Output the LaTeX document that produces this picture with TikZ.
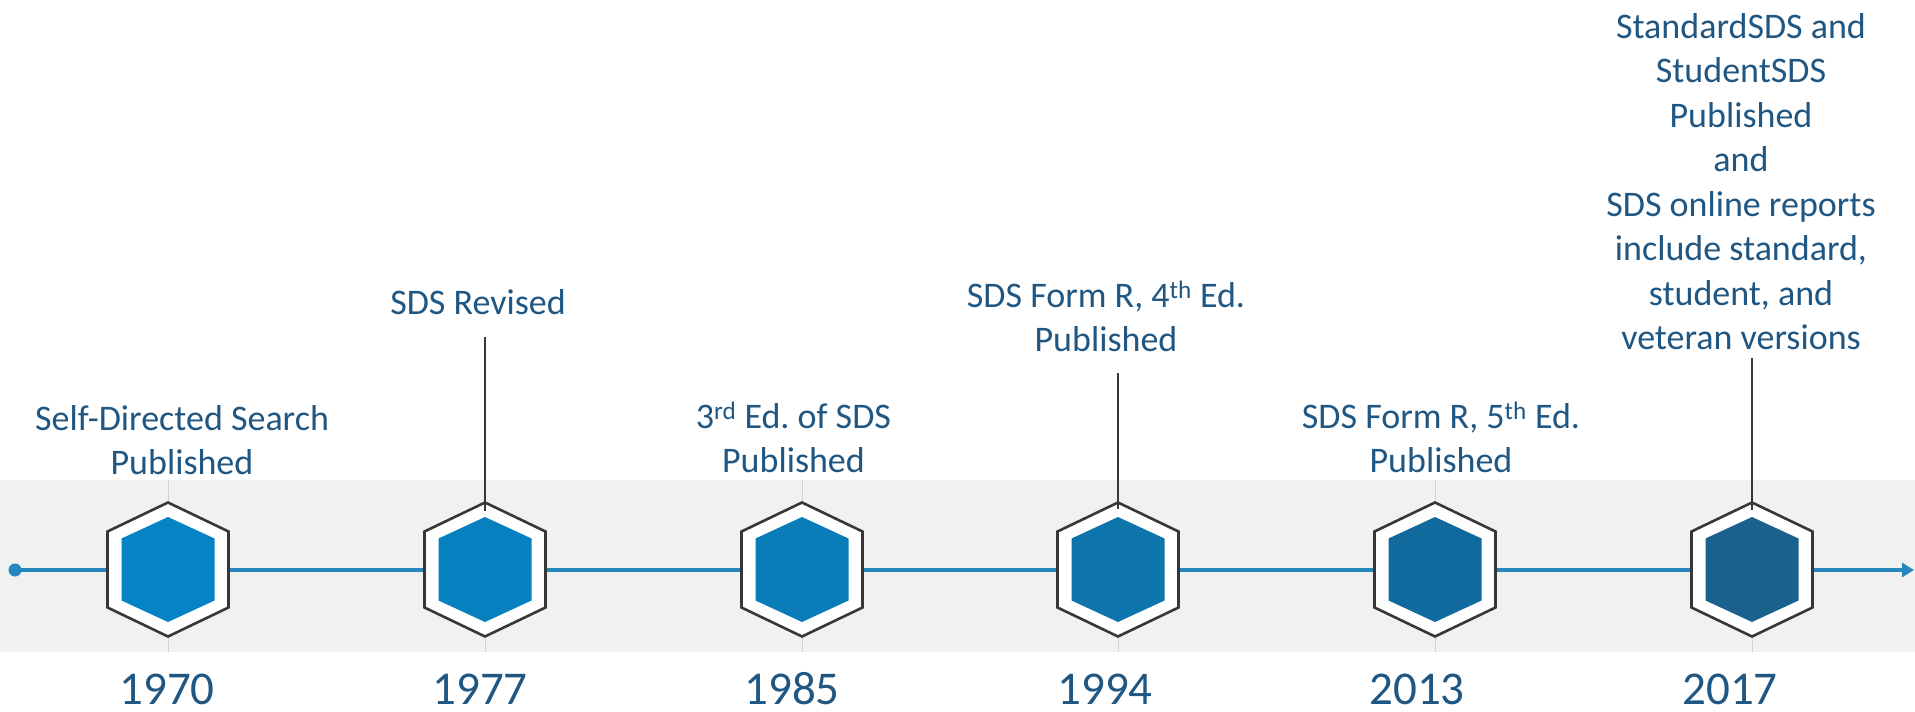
\documentclass[tikz,border=0pt]{standalone}
\usepackage{fontspec}
\setmainfont{Carlito}
\frenchspacing
\usetikzlibrary{arrows.meta,calc}
\definecolor{txtblue}{RGB}{31,86,130}
\definecolor{lineblue}{RGB}{38,134,190}
\definecolor{bandgray}{RGB}{241,241,241}
\definecolor{hexgray}{RGB}{55,55,55}
\definecolor{ca}{RGB}{4,132,196}
\definecolor{cb}{RGB}{6,128,190}
\definecolor{cc}{RGB}{9,124,185}
\definecolor{cd}{RGB}{13,116,172}
\definecolor{ce}{RGB}{17,106,158}
\definecolor{cf}{RGB}{26,97,142}
\tikzset{
  hexa/.pic={
    \filldraw[fill=white,draw=hexgray,line width=2.6pt]
      (0,-67) -- (60.5,-38) -- (60.5,38) -- (0,67) -- (-60.5,38) -- (-60.5,-38) -- cycle;
    \fill[#1] (0,-52.5) -- (46.5,-31) -- (46.5,31) -- (0,52.5) -- (-46.5,31) -- (-46.5,-31) -- cycle;
  },
  label/.style={text=txtblue,align=center,inner sep=0pt,anchor=south,
    font=\fontsize{36}{44.5}\selectfont},
  yearlbl/.style={text=txtblue,inner sep=0pt,anchor=base,
    font=\fontsize{47}{50}\selectfont},
  conn/.style={draw=hexgray,line width=1.5pt},
  faint/.style={draw=black!18,line width=1pt},
  tline/.style={draw=lineblue,line width=3.5pt}
}
\begin{document}
\begin{tikzpicture}[x=1pt,y=-1pt]
\useasboundingbox (0,0) rectangle (1915,712);
\fill[bandgray] (0,480) rectangle (1915,652);

% hex centres
\coordinate (h1970) at (168,569.5);
\coordinate (h1977) at (485,569.5);
\coordinate (h1985) at (802,569.5);
\coordinate (h1994) at (1118,569.5);
\coordinate (h2013) at (1435,569.5);
\coordinate (h2017) at (1752,569.5);

% faint vertical guides
\foreach \h in {h1970,h1977,h1985,h1994,h2013,h2017}
  \draw[faint] (\h |- 0,480) -- (\h |- 0,652);

% timeline
\coordinate (tstart) at (15,570);
\coordinate (tend) at (1914,570);
\fill[lineblue] (tstart) circle (6.5);
\draw[tline,-{Triangle[length=12pt,width=14pt]}] (tstart) -- (tend);

% hexagons
\pic at (h1970) {hexa=ca};
\pic at (h1977) {hexa=cb};
\pic at (h1985) {hexa=cc};
\pic at (h1994) {hexa=cd};
\pic at (h2013) {hexa=ce};
\pic at (h2017) {hexa=cf};

% event labels
\node[label] (t1970) at (182,475) {Self-Directed Search\\Published};
\node[label] (t1977) at (478,315) {SDS Revised};
\node[label] (t1985) at (793.5,473) {3\textsuperscript{rd} Ed. of SDS\\Published};
\node[label] (t1994) at (1106,352) {SDS Form R, 4\textsuperscript{th} Ed.\\Published};
\node[label] (t2013) at (1441,473) {SDS Form R, 5\textsuperscript{th} Ed.\\Published};
\node[label] (t2017) at (1741,350) {StandardSDS and\\StudentSDS\\Published\\and\\SDS online reports\\include standard,\\student, and\\veteran versions};

% connectors
\draw[conn] ([yshift=-22pt]t1977.south -| h1977) -- ([yshift=-10pt]h1977 |- 0,501);
\draw[conn] ([yshift=-21pt]t1994.south -| h1994) -- ([yshift=-8pt]h1994 |- 0,501);
\draw[conn] ([yshift=-8pt]t2017.south -| h2017) -- ([yshift=-9pt]h2017 |- 0,501);

% years
\node[yearlbl] (y1970) at (167,704) {1970};
\node[yearlbl] (y1977) at (480,704) {1977};
\node[yearlbl] (y1985) at (792,704) {1985};
\node[yearlbl] (y1994) at (1105,704) {1994};
\node[yearlbl] (y2013) at (1417,704) {2013};
\node[yearlbl] (y2017) at (1730,704) {2017};
\end{tikzpicture}
\end{document}
